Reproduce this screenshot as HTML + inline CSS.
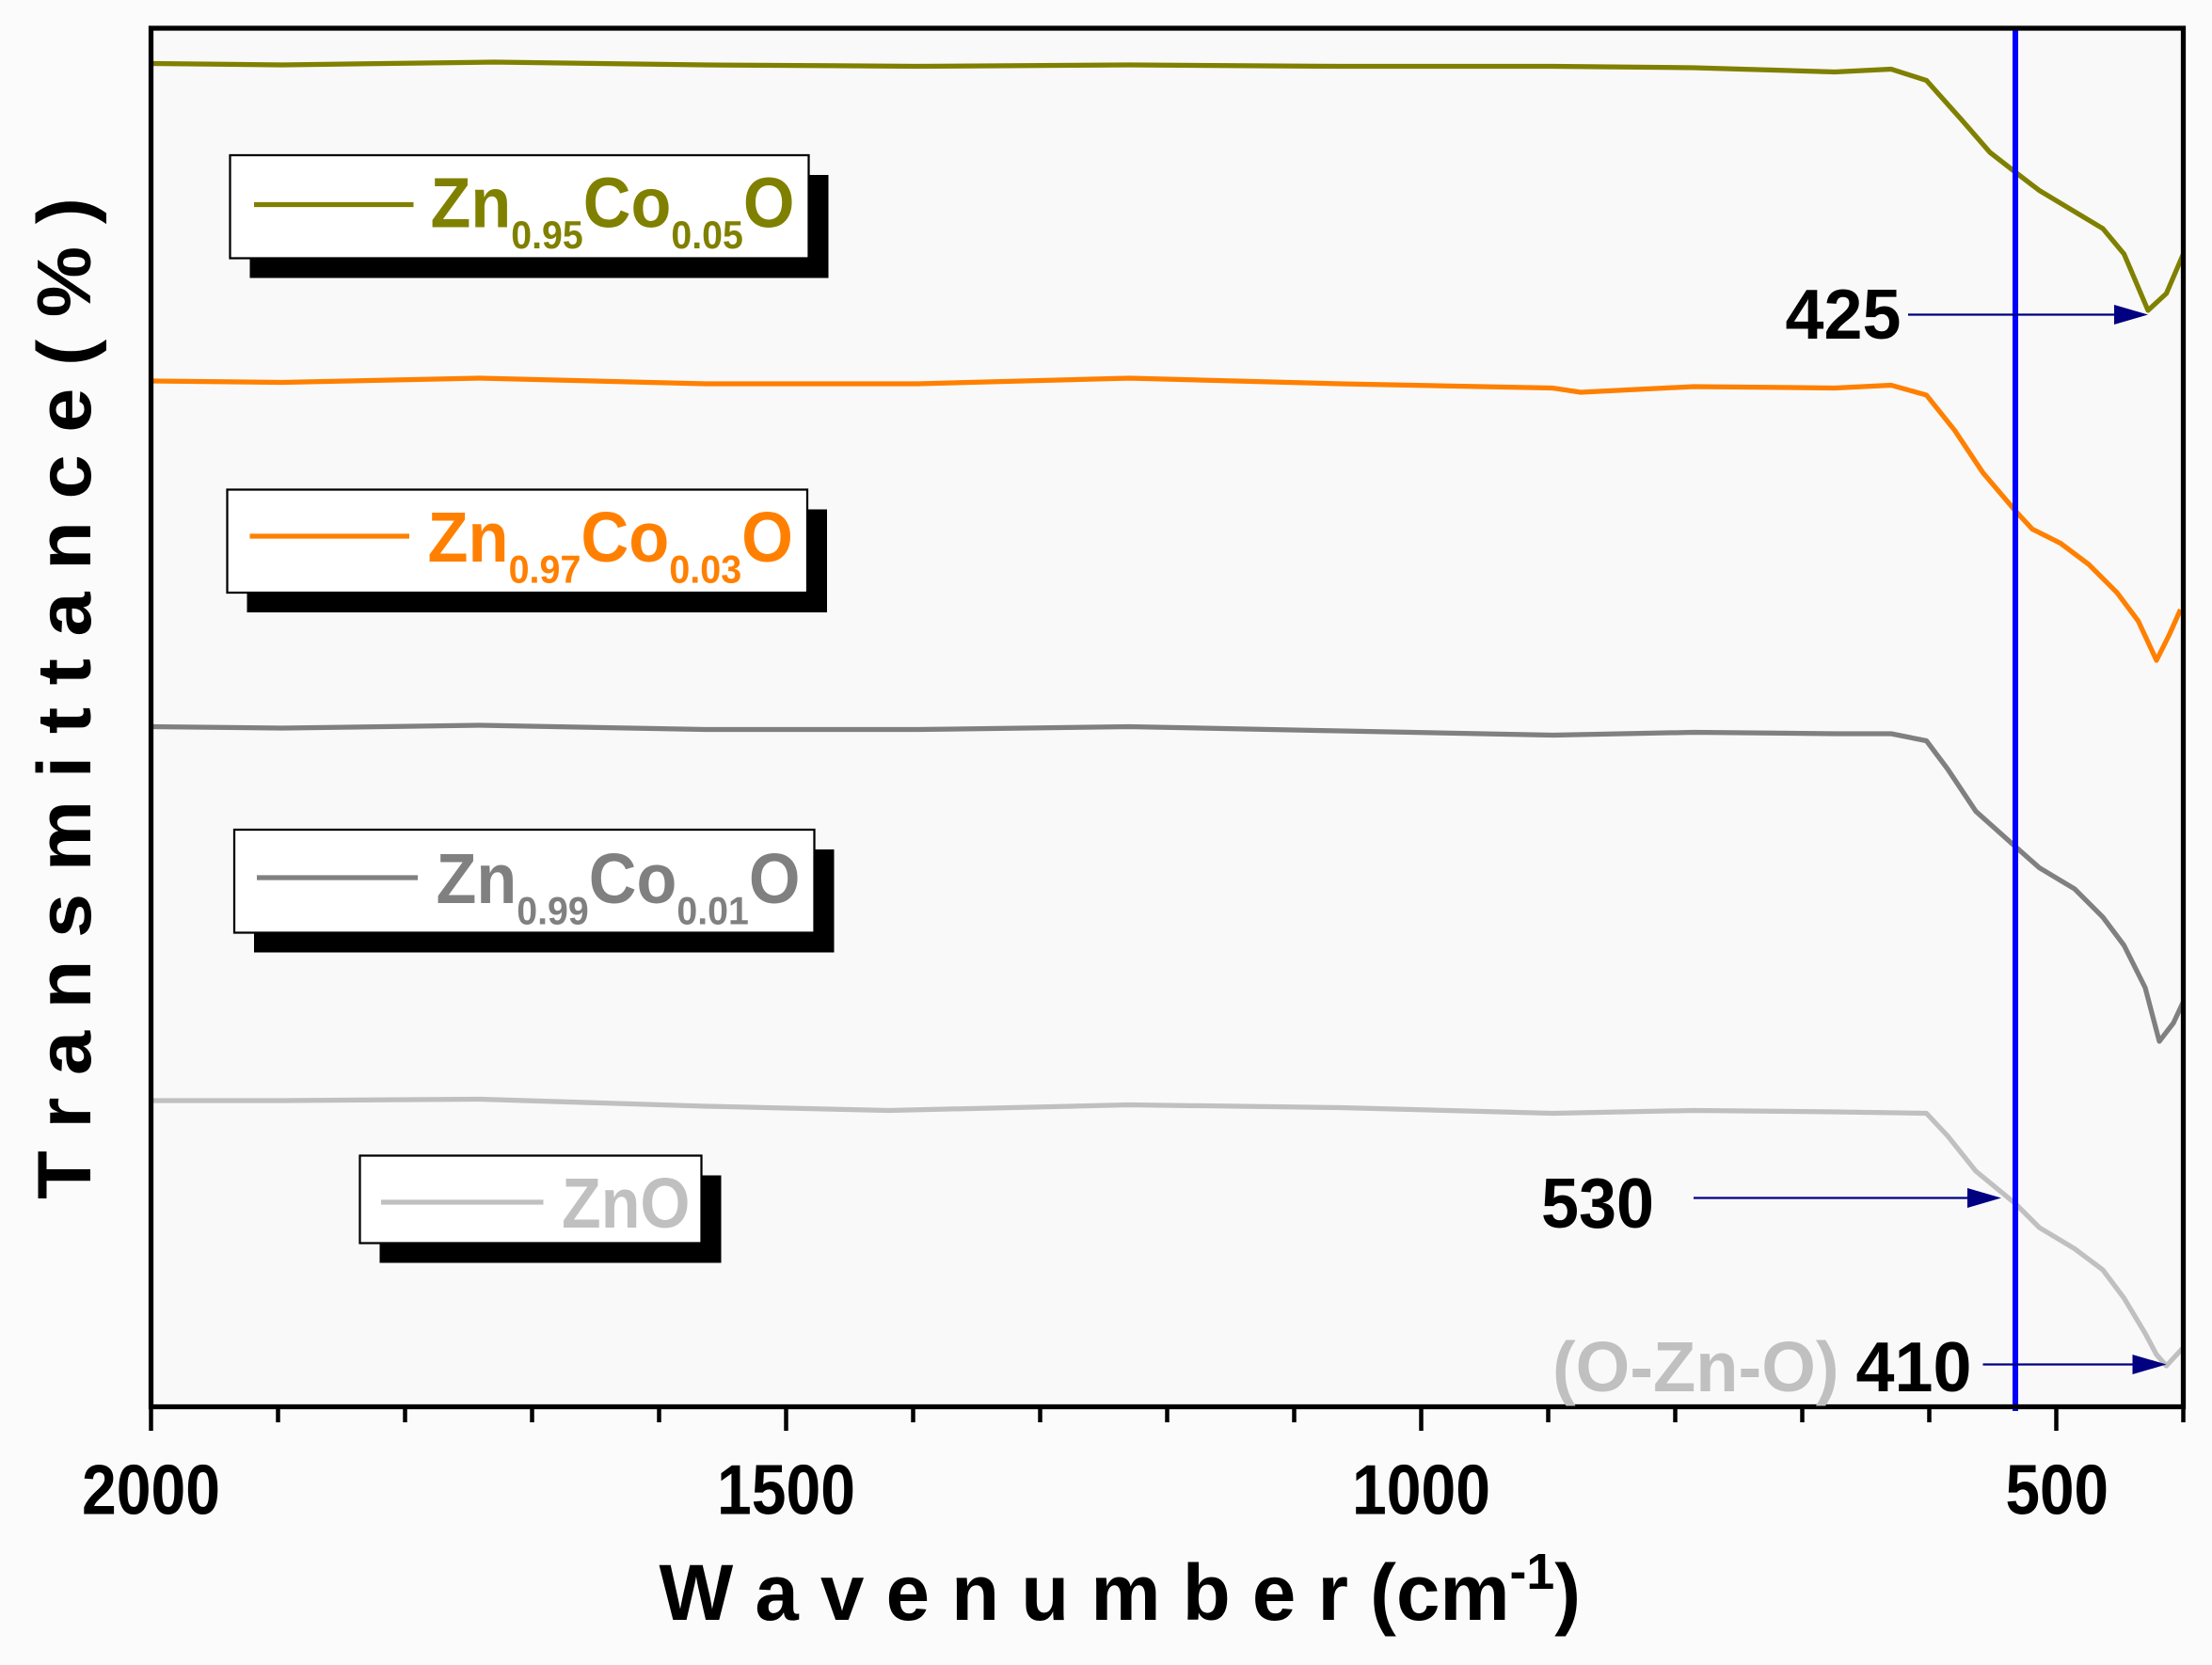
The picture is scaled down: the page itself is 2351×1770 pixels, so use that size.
<!DOCTYPE html>
<html><head><meta charset="utf-8"><style>
html,body{margin:0;padding:0;background:#fbfbfb;}
svg{display:block;}
text{font-family:"Liberation Sans",sans-serif;font-weight:bold;}
</style></head><body>
<svg width="2351" height="1770" viewBox="0 0 1567.33 1180" xmlns="http://www.w3.org/2000/svg">
<rect x="0" y="0" width="1567.33" height="1180" fill="#fbfbfb"/>
<rect x="107" y="20" width="1440" height="977" fill="#f9f9f9"/>

<g fill="none" stroke-width="3.5" stroke-linejoin="round">
<polyline stroke="#808000" points="107,45 200,46 350,44 500,46 650,47 800,46 950,47 1100,47 1200,48 1300,51 1340,49 1365,57 1390,85 1410,108 1428,122 1445,135 1470,150 1490,162 1505,180 1522,220 1535,208 1547,180"/>
<polyline stroke="#ff8000" points="107,270 200,271 340,268 500,272 650,272 800,268 950,272 1100,275 1120,278 1200,274 1300,275 1340,273 1365,280 1385,305 1405,335 1428,362 1440,375 1460,385 1480,400 1500,420 1515,440 1528,468 1537,450 1545,432"/>
<polyline stroke="#808080" points="107,515 200,516 340,514 500,517 650,517 800,515 950,518 1100,521 1200,519 1300,520 1340,520 1365,525 1380,545 1400,575 1428,600 1445,615 1470,630 1490,650 1505,670 1520,700 1530,738 1540,725 1547,710"/>
<polyline stroke="#c0c0c0" points="107,780 200,780 340,779 500,784 630,787 800,783 950,785 1100,789 1200,787 1300,788 1365,789 1380,805 1400,830 1428,853 1445,870 1470,885 1490,900 1505,920 1520,945 1528,960 1535,968 1547,955"/>
</g>

<line x1="1428" y1="21" x2="1428" y2="1000" stroke="#0000ff" stroke-width="4"/>

<rect x="107" y="20" width="1440" height="977" fill="none" stroke="#000" stroke-width="3.5"/>
<g stroke="#000" stroke-width="3">
<line x1="107" y1="997" x2="107" y2="1014"/>
<line x1="197" y1="997" x2="197" y2="1008"/>
<line x1="287" y1="997" x2="287" y2="1008"/>
<line x1="377" y1="997" x2="377" y2="1008"/>
<line x1="467" y1="997" x2="467" y2="1008"/>
<line x1="557" y1="997" x2="557" y2="1014"/>
<line x1="647" y1="997" x2="647" y2="1008"/>
<line x1="737" y1="997" x2="737" y2="1008"/>
<line x1="827" y1="997" x2="827" y2="1008"/>
<line x1="917" y1="997" x2="917" y2="1008"/>
<line x1="1007" y1="997" x2="1007" y2="1014"/>
<line x1="1097" y1="997" x2="1097" y2="1008"/>
<line x1="1187" y1="997" x2="1187" y2="1008"/>
<line x1="1277" y1="997" x2="1277" y2="1008"/>
<line x1="1367" y1="997" x2="1367" y2="1008"/>
<line x1="1457" y1="997" x2="1457" y2="1014"/>
<line x1="1547" y1="997" x2="1547" y2="1008"/>
</g>
<g font-size="50" fill="#000">
<text x="58" y="1073" textLength="98" lengthAdjust="spacingAndGlyphs">2000</text>
<text x="508" y="1073" textLength="98" lengthAdjust="spacingAndGlyphs">1500</text>
<text x="958" y="1073" textLength="98" lengthAdjust="spacingAndGlyphs">1000</text>
<text x="1421" y="1073" textLength="73" lengthAdjust="spacingAndGlyphs">500</text>
</g>

<text x="467" y="1148" font-size="56" textLength="653" lengthAdjust="spacingAndGlyphs">W a v e n u m b e r  (cm<tspan dy="-22" font-size="36">-1</tspan><tspan dy="22">)</tspan></text>
<text transform="translate(64,850) rotate(-90)" x="0" y="0" font-size="54" textLength="710" lengthAdjust="spacingAndGlyphs">T r a n s m i t t a n c e  ( % )</text>

<g>
<rect x="177" y="124" width="410" height="73" fill="#000"/>
<rect x="163" y="110" width="410" height="73" fill="#fff" stroke="#000" stroke-width="1.5"/>
<line x1="180" y1="145" x2="293" y2="145" stroke="#808000" stroke-width="3.5"/>
<text x="305" y="161" font-size="50" fill="#808000" textLength="258" lengthAdjust="spacingAndGlyphs">Zn<tspan font-size="28" dy="15">0.95</tspan><tspan dy="-15">Co</tspan><tspan font-size="28" dy="15">0.05</tspan><tspan dy="-15">O</tspan></text>

<rect x="175" y="361" width="411" height="73" fill="#000"/>
<rect x="161" y="347" width="411" height="73" fill="#fff" stroke="#000" stroke-width="1.5"/>
<line x1="177" y1="380" x2="290" y2="380" stroke="#ff8000" stroke-width="3.5"/>
<text x="303" y="398" font-size="50" fill="#ff8000" textLength="259" lengthAdjust="spacingAndGlyphs">Zn<tspan font-size="28" dy="15">0.97</tspan><tspan dy="-15">Co</tspan><tspan font-size="28" dy="15">0.03</tspan><tspan dy="-15">O</tspan></text>

<rect x="180" y="602" width="411" height="73" fill="#000"/>
<rect x="166" y="588" width="411" height="73" fill="#fff" stroke="#000" stroke-width="1.5"/>
<line x1="182" y1="622" x2="296" y2="622" stroke="#808080" stroke-width="3.5"/>
<text x="309" y="640" font-size="50" fill="#808080" textLength="258" lengthAdjust="spacingAndGlyphs">Zn<tspan font-size="28" dy="15">0.99</tspan><tspan dy="-15">Co</tspan><tspan font-size="28" dy="15">0.01</tspan><tspan dy="-15">O</tspan></text>

<rect x="269" y="833" width="242" height="62" fill="#000"/>
<rect x="255" y="819" width="242" height="62" fill="#fff" stroke="#000" stroke-width="1.5"/>
<line x1="270" y1="852" x2="385" y2="852" stroke="#c0c0c0" stroke-width="3.5"/>
<text x="398" y="870" font-size="50" fill="#c0c0c0" textLength="91" lengthAdjust="spacingAndGlyphs">ZnO</text>
</g>

<g stroke="#000080" stroke-width="1.5" fill="#000080">
<line x1="1352" y1="223" x2="1500" y2="223"/>
<polygon points="1498,216 1522,223 1498,230" stroke="none"/>
<line x1="1200" y1="849" x2="1396" y2="849"/>
<polygon points="1394,842 1418,849 1394,856" stroke="none"/>
<line x1="1405" y1="967" x2="1513" y2="967"/>
<polygon points="1511,960 1535,967 1511,974" stroke="none"/>
</g>
<g font-size="50" fill="#000">
<text x="1265" y="240" textLength="82" lengthAdjust="spacingAndGlyphs">425</text>
<text x="1092" y="870" textLength="80" lengthAdjust="spacingAndGlyphs">530</text>
<text x="1315" y="986" textLength="82" lengthAdjust="spacingAndGlyphs">410</text>
</g>
<text x="1100" y="986" font-size="50" fill="#c0c0c0" textLength="203" lengthAdjust="spacingAndGlyphs">(O-Zn-O)</text>
</svg>
</body></html>
